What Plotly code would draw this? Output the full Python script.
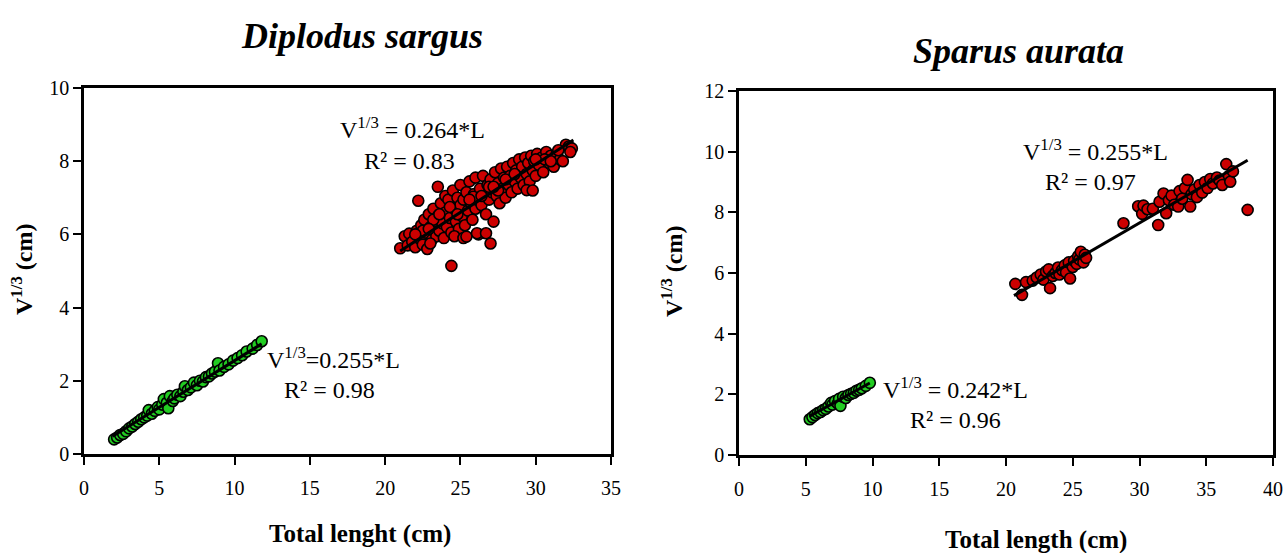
import plotly.graph_objects as go

# ---------------- data ----------------
# Diplodus sargus - adults (red)
ds_red_x = [21.0, 21.3, 21.5, 21.6, 21.8, 22.0, 22.1, 22.2, 22.3, 22.4, 22.5, 22.6, 22.7, 22.8, 22.9,
            23.0, 23.1, 23.2, 23.3, 23.4, 23.5, 23.5, 23.6, 23.7, 23.8, 23.9, 24.0, 24.0, 24.1, 24.2,
            24.3, 24.4, 24.4, 24.5, 24.6, 24.7, 24.8, 24.9, 25.0, 25.0, 25.1, 25.2, 25.3, 25.4, 25.5,
            25.6, 25.7, 25.8, 25.9, 26.0, 26.0, 26.1, 26.2, 26.3, 26.4, 26.5, 26.6, 26.7, 26.8, 26.9,
            27.0, 27.0, 27.1, 27.2, 27.3, 27.4, 27.5, 27.6, 27.7, 27.8, 27.9, 28.0, 28.1, 28.2, 28.3,
            28.4, 28.5, 28.6, 28.7, 28.8, 28.9, 29.0, 29.1, 29.2, 29.3, 29.4, 29.5, 29.6, 29.7, 29.8,
            29.9, 30.0, 30.1, 30.2, 30.4, 30.5, 30.7, 30.9, 31.0, 31.2, 31.4, 31.6, 31.8, 32.0, 32.2,
            32.4, 22.5, 23.0, 24.6, 25.2, 25.4, 26.1, 26.7, 29.4, 29.8, 25.85, 23.2, 24.3, 26.9, 28.0,
            30.6, 31.5, 22.9, 27.5, 22.0, 23.6, 24.8, 25.6, 26.4, 27.2, 28.6, 30.0, 31.0, 32.3]
ds_red_y = [5.62, 5.95, 5.70, 6.02, 5.80, 5.65, 6.10, 6.92, 5.88, 6.25, 5.72, 6.40, 6.05, 5.60, 6.55,
            6.20, 5.85, 6.70, 6.35, 5.95, 7.30, 6.50, 6.10, 6.85, 6.30, 5.90, 7.05, 6.60, 6.20, 6.95,
            6.45, 5.14, 6.05, 7.20, 6.70, 6.35, 7.00, 6.15, 6.80, 7.35, 6.50, 6.95, 6.25, 7.15, 6.65,
            7.45, 6.85, 6.40, 7.10, 6.70, 7.55, 6.95, 6.00, 7.25, 6.80, 7.60, 7.05, 6.55, 7.35, 6.95,
            5.75, 7.50, 7.15, 6.35, 7.70, 7.05, 7.40, 6.85, 7.80, 7.25, 7.55, 7.00, 7.85, 7.35, 7.60,
            7.15, 7.95, 7.45, 7.75, 7.25, 8.05, 7.55, 7.85, 7.35, 8.10, 7.65, 7.95, 7.45, 8.15, 7.75,
            8.00, 7.60, 8.20, 7.90, 8.10, 7.70, 8.25, 7.95, 8.15, 7.85, 8.20, 8.05, 8.00, 8.45, 8.40,
            8.35, 6.10, 5.75, 5.95, 5.90, 5.94, 6.03, 6.03, 7.21, 7.20, 7.03, 6.40, 6.75, 7.30, 7.50,
            8.05, 8.30, 6.15, 7.20, 6.00, 6.55, 6.55, 6.95, 7.05, 7.30, 7.65, 8.05, 8.00, 8.25]

# Diplodus sargus - juveniles (green)
ds_green_x = [2.0, 2.2, 2.4, 2.6, 2.8, 3.0, 3.2, 3.4, 3.6, 3.8, 4.0, 4.2, 4.3, 4.5, 4.7, 4.9, 5.0,
              5.2, 5.3, 5.5, 5.6, 5.7, 5.9, 6.0, 6.2, 6.4, 6.6, 6.7, 6.9, 7.1, 7.3, 7.5, 7.7, 7.9,
              8.1, 8.3, 8.5, 8.7, 8.9, 9.0, 9.3, 9.6, 9.9, 10.2, 10.5, 10.8, 11.2, 11.5, 11.8]
ds_green_y = [0.40, 0.45, 0.52, 0.55, 0.62, 0.70, 0.75, 0.82, 0.88, 0.95, 1.00, 1.05, 1.20, 1.10,
              1.18, 1.28, 1.22, 1.35, 1.50, 1.40, 1.25, 1.58, 1.45, 1.52, 1.62, 1.58, 1.70, 1.85,
              1.75, 1.82, 1.95, 1.88, 2.00, 1.98, 2.10, 2.12, 2.20, 2.25, 2.48, 2.28, 2.38, 2.45,
              2.55, 2.62, 2.70, 2.80, 2.88, 2.98, 3.08]

# Sparus aurata - adults (red)
sa_red_x = [20.7, 21.2, 21.5, 22.0, 22.3, 22.6, 22.8, 23.0, 23.2, 23.3, 23.5, 23.7, 23.9, 24.0,
            24.2, 24.4, 24.5, 24.7, 24.8, 25.0, 25.1, 25.3, 25.4, 25.5, 25.6, 25.8, 25.9, 26.0,
            28.8, 29.9, 30.2, 30.3, 30.6, 31.0, 31.4, 31.5, 31.8, 32.0, 32.2, 32.4, 32.6, 32.9,
            33.0, 33.2, 33.4, 33.6, 33.8, 33.9, 34.1, 34.3, 34.5, 34.7, 34.9, 35.1, 35.3, 35.5,
            35.8, 36.0, 36.2, 36.5, 36.7, 36.8, 37.0, 38.1]
sa_red_y = [5.64, 5.28, 5.70, 5.75, 5.85, 5.95, 5.78, 6.05, 6.12, 5.50, 5.90, 6.00, 6.18, 5.95,
            6.10, 6.25, 6.02, 6.35, 5.82, 6.20, 6.40, 6.30, 6.55, 6.45, 6.70, 6.35, 6.60, 6.50,
            7.64, 8.20, 7.95, 8.22, 8.10, 8.12, 7.58, 8.35, 8.62, 7.97, 8.40, 8.55, 8.25, 8.19,
            8.70, 8.45, 8.80, 9.07, 8.19, 8.60, 8.75, 8.50, 8.90, 8.65, 9.00, 8.80, 9.10, 8.95,
            9.15, 9.05, 8.90, 9.59, 9.20, 9.01, 9.35, 8.08]

# Sparus aurata - juveniles (green)
sa_green_x = [5.3, 5.5, 5.7, 5.9, 6.1, 6.3, 6.5, 6.7, 6.9, 7.0, 7.2, 7.4, 7.5, 7.6, 7.8, 8.0,
              8.2, 8.4, 8.6, 8.8, 9.0, 9.2, 9.5, 9.8]
sa_green_y = [1.18, 1.25, 1.32, 1.38, 1.42, 1.48, 1.52, 1.60, 1.72, 1.66, 1.78, 1.70, 1.85, 1.62,
              1.92, 1.88, 1.98, 2.02, 2.05, 2.12, 2.15, 2.20, 2.28, 2.38]

# regression slopes (through origin) and line extents
ds_red_slope, ds_green_slope = 0.264, 0.255
sa_red_slope, sa_green_slope = 0.255, 0.242
ds_red_fit_x = [21.0, 32.5]
ds_green_fit_x = [1.9, 11.8]
sa_red_fit_x = [20.6, 38.1]
sa_green_fit_x = [5.3, 9.8]

# ---------------- figure ----------------
W, H = 1288, 553
FONT = "Liberation Serif, Times New Roman, Times, serif"
RED = "#CC0000"
GREEN = "#22CC22"

fig = go.Figure()


def add_points(xs, ys, color, xa, ya):
    fig.add_trace(go.Scatter(
        x=xs, y=ys, mode="markers", xaxis=xa, yaxis=ya, showlegend=False,
        marker=dict(size=11, color=color, line=dict(color="black", width=1.6))))


def add_fit(xr, slope, xa, ya):
    fig.add_trace(go.Scatter(
        x=xr, y=[slope * v for v in xr], mode="lines", xaxis=xa, yaxis=ya,
        showlegend=False, line=dict(color="black", width=3)))


add_points(ds_red_x, ds_red_y, RED, "x", "y")
add_points(ds_green_x, ds_green_y, GREEN, "x", "y")
add_fit(ds_red_fit_x, ds_red_slope, "x", "y")
add_fit(ds_green_fit_x, ds_green_slope, "x", "y")

add_points(sa_red_x, sa_red_y, RED, "x2", "y2")
add_points(sa_green_x, sa_green_y, GREEN, "x2", "y2")
add_fit(sa_red_fit_x, sa_red_slope, "x2", "y2")
add_fit(sa_green_fit_x, sa_green_slope, "x2", "y2")


def px(x):
    return x / W


def py(y):
    return 1 - y / H


axis_common = dict(showline=True, linecolor="black", linewidth=2.5, mirror=True,
                   ticks="outside", ticklen=8, tickwidth=2, tickcolor="black",
                   showgrid=False, zeroline=False, automargin=False,
                   tickfont=dict(family=FONT, size=20, color="black"))

fig.update_layout(
    width=W, height=H, margin=dict(l=0, r=0, t=0, b=0, pad=0, autoexpand=False),
    paper_bgcolor="white", plot_bgcolor="white",
    font=dict(family=FONT, color="black"),
    xaxis=dict(domain=[px(84), px(611)], range=[0, 35], dtick=5, anchor="y",
               ticklabelstandoff=6, **axis_common),
    yaxis=dict(domain=[py(454), py(88)], range=[0, 10], dtick=2, anchor="x", **axis_common),
    xaxis2=dict(domain=[px(739), px(1273)], range=[0, 40], dtick=5, anchor="y2",
                ticklabelstandoff=6, **axis_common),
    yaxis2=dict(domain=[py(455), py(91)], range=[0, 12], dtick=2, anchor="x2", **axis_common),
)

ann = []
# titles
ann.append(dict(text="<b><i>Diplodus sargus</i></b>", x=px(362), y=py(36), size=36))
ann.append(dict(text="<b><i>Sparus aurata</i></b>", x=px(1018), y=py(51), size=36))
# axis titles
ann.append(dict(text="<b>Total lenght (cm)</b>", x=px(360), y=py(534), size=25))
ann.append(dict(text="<b>Total length (cm)</b>", x=px(1036), y=py(540), size=25))
ann.append(dict(text="<b>V<sup>1/3</sup> (cm)</b>", x=px(22), y=py(270), size=24, angle=-90))
ann.append(dict(text="<b>V<sup>1/3</sup> (cm)</b>", x=px(672), y=py(272), size=24, angle=-90))

for a in ann:
    fig.add_annotation(text=a["text"], x=a["x"], y=a["y"], xref="paper", yref="paper",
                       showarrow=False, xanchor="center", yanchor="middle",
                       textangle=a.get("angle", 0),
                       font=dict(family=FONT, size=a["size"], color="black"))

# equation labels (data coordinates)
eqs = [
    ("V<sup>1/3</sup> = 0.264*L", 21.8, 8.9, "x", "y"),
    ("R² = 0.83", 21.6, 8.0, "x", "y"),
    ("V<sup>1/3</sup>=0.255*L", 16.6, 2.62, "x", "y"),
    ("R² = 0.98", 16.3, 1.75, "x", "y"),
    ("V<sup>1/3</sup> = 0.255*L", 26.7, 10.06, "x2", "y2"),
    ("R² = 0.97", 26.3, 9.0, "x2", "y2"),
    ("V<sup>1/3</sup> = 0.242*L", 16.2, 2.21, "x2", "y2"),
    ("R² = 0.96", 16.2, 1.15, "x2", "y2"),
]
for t, x, y, xr, yr in eqs:
    fig.add_annotation(text=t, x=x, y=y, xref=xr, yref=yr, showarrow=False,
                       xanchor="center", yanchor="middle",
                       font=dict(family=FONT, size=24, color="black"))

fig.write_html("out.html")
